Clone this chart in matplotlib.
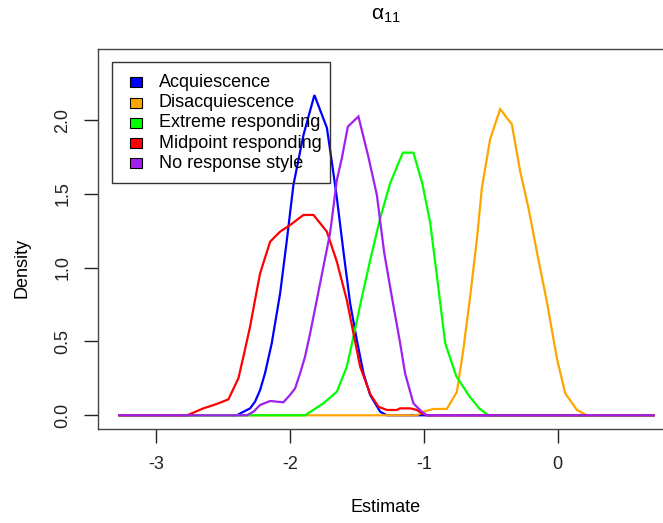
import matplotlib
matplotlib.use("Agg")
import matplotlib.pyplot as plt
from matplotlib.patches import Rectangle

plt.rcParams['font.family'] = ['Liberation Sans', 'DejaVu Sans']
plt.rcParams['mathtext.fontset'] = 'custom'
plt.rcParams['mathtext.rm'] = 'Liberation Sans'
plt.rcParams['mathtext.it'] = 'Liberation Sans'

X_MIN, X_MAX = -3.277, 0.717

labels = ["Acquiescence", "Disacquiescence", "Extreme responding",
          "Midpoint responding", "No response style"]
colors = ["#0000FF", "#FFA500", "#00FF00", "#FF0000", "#A020F0"]

acq_x = [X_MIN, -2.40, -2.362, -2.30, -2.263, -2.225, -2.188, -2.138, -2.075, -2.025,
         -1.976, -1.901, -1.819, -1.726, -1.689, -1.651, -1.602, -1.552, -1.502,
         -1.452, -1.402, -1.327, -1.277, X_MAX]
acq_y = [0, 0, 0.018, 0.047, 0.092, 0.171, 0.286, 0.488, 0.828, 1.187,
         1.560, 1.898, 2.169, 1.948, 1.718, 1.472, 1.110, 0.760, 0.510,
         0.284, 0.137, 0.024, 0, 0]

dis_x = [X_MIN, -1.053, -1.004, -0.929, -0.829, -0.754, -0.705, -0.654, -0.604, -0.567,
         -0.505, -0.430, -0.343, -0.280, -0.218, -0.156, -0.081, -0.006, 0.056,
         0.144, 0.218, X_MAX]
dis_y = [0, 0, 0.024, 0.043, 0.043, 0.158, 0.449, 0.808, 1.194, 1.539,
         1.871, 2.074, 1.971, 1.650, 1.402, 1.108, 0.769, 0.386, 0.149,
         0.036, 0, 0]

ext_x = [X_MIN, -1.889, -1.752, -1.651, -1.577, -1.527, -1.477, -1.402, -1.327, -1.253,
         -1.158, -1.079, -1.013, -0.954, -0.904, -0.841, -0.759, -0.662, -0.587,
         -0.518, X_MAX]
ext_y = [0, 0, 0.081, 0.160, 0.329, 0.532, 0.747, 1.051, 1.336, 1.571,
         1.779, 1.779, 1.573, 1.309, 0.950, 0.488, 0.266, 0.131, 0.047,
         0, 0]

mid_x = [X_MIN, -2.770, -2.649, -2.549, -2.462, -2.387, -2.350, -2.300, -2.263, -2.225,
         -2.150, -2.075, -2.000, -1.901, -1.826, -1.726, -1.651, -1.577, -1.527,
         -1.477, -1.402, -1.340, -1.277, -1.203, -1.178, -1.103, -1.053, -1.016,
         -0.978, X_MAX]
mid_y = [0, 0, 0.047, 0.077, 0.108, 0.251, 0.397, 0.600, 0.781, 0.962,
         1.176, 1.244, 1.289, 1.357, 1.357, 1.244, 1.040, 0.781, 0.555,
         0.329, 0.144, 0.058, 0.036, 0.036, 0.047, 0.047, 0.036, 0.014,
         0, 0]

nrs_x = [X_MIN, -2.325, -2.275, -2.225, -2.150, -2.051, -2.001, -1.963, -1.926, -1.889,
         -1.851, -1.801, -1.752, -1.702, -1.651, -1.614, -1.569, -1.490, -1.415,
         -1.352, -1.298, -1.240, -1.178, -1.141, -1.079, -1.016, -0.978, X_MAX]
nrs_y = [0, 0, 0.024, 0.070, 0.097, 0.088, 0.138, 0.183, 0.284, 0.397,
         0.555, 0.781, 1.006, 1.233, 1.594, 1.741, 1.955, 2.024, 1.749,
         1.492, 1.106, 0.803, 0.488, 0.284, 0.081, 0.024, 0, 0]

series = [(acq_x, acq_y), (dis_x, dis_y), (ext_x, ext_y), (mid_x, mid_y), (nrs_x, nrs_y)]

x_ticks = [-3, -2, -1, 0]
y_ticks = [0.0, 0.5, 1.0, 1.5, 2.0]

W, H = 663, 523
fig = plt.figure(figsize=(W / 100, H / 100), dpi=100)
ax = fig.add_axes([98 / W, (H - 429.4) / H, 577 / W, 380.4 / H])

# legend box (transparent, drawn beneath the curves as in the reference)
lx0, ly0, lx1, ly1 = 111.7, 62.3, 330, 182.7
fig.add_artist(Rectangle((lx0 / W, 1 - ly1 / H), (lx1 - lx0) / W, (ly1 - ly0) / H,
                         transform=fig.transFigure, facecolor='none',
                         edgecolor='#333333', lw=1.0, zorder=5))
rows = [82.3, 102.7, 122.7, 143.3, 163.3]
for lab, c, ry in zip(labels, colors, rows):
    fig.add_artist(Rectangle((129.5 / W, 1 - (ry + 5) / H), 12 / W, 10 / H,
                             transform=fig.transFigure, facecolor=c,
                             edgecolor='black', lw=0.8, zorder=6))
    fig.text(159 / W, 1 - ry / H, lab, ha='left', va='center', fontsize=13, zorder=7)

for (xs, ys), c in zip(series, colors):
    ax.plot(xs, ys, color=c, lw=1.6, solid_joinstyle='miter')

ax.set_xlim(-3.437, 0.877)
ax.set_ylim(-0.0955, 2.481)
ax.set_xticks(x_ticks)
ax.set_xticklabels([str(t) for t in x_ticks])
ax.set_yticks(y_ticks)
ax.set_yticklabels([f"{t:.1f}" for t in y_ticks], rotation=90, va='center')
ax.tick_params(axis='x', length=10, width=1, pad=9, labelsize=13, colors='#222222')
ax.tick_params(axis='y', length=10, width=1, pad=9, labelsize=13, colors='#222222')
for s in ax.spines.values():
    s.set_color('#444444')
    s.set_linewidth(1.0)
ax.patch.set_alpha(0)

fig.text(22 / W, 1 - 268 / H, "Density", rotation=90, ha='center', va='center', fontsize=13)
fig.text(386 / W, 1 - 508 / H, "Estimate", ha='center', va='center', fontsize=13)
fig.text(386 / W, 1 - 16 / H, r"$\alpha_{11}$", ha='center', va='center', fontsize=15)

fig.savefig("out.png", dpi=100)
